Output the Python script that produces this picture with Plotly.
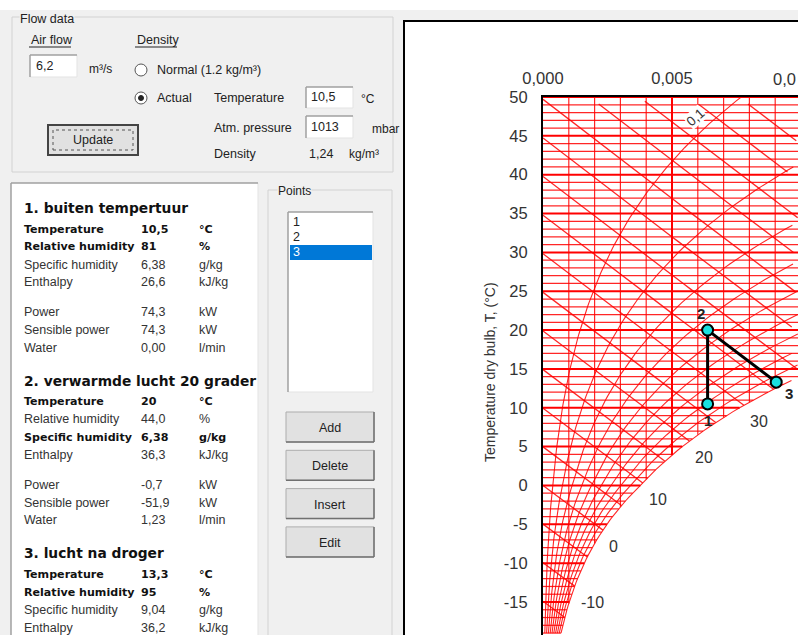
import numpy as np
import plotly.graph_objects as go

# ---------------- data ----------------
P_ATM = 101.3  # kPa (1013 mbar)
temp_levels = list(range(-20, 51))                 # dry-bulb isotherms, °C
humidity_levels = [0.001, 0.002, 0.003, 0.004, 0.005, 0.006, 0.007, 0.008, 0.009]  # kg/kg
enthalpy_levels = list(range(-15, 80, 5))          # kJ/kg
enthalpy_label_levels = [-10, 0, 10, 20, 30]
rh_levels = [0.1, 0.2, 0.3, 0.4, 0.5, 0.6, 0.7, 0.8, 0.9]
point_names = ["1", "2", "3"]
point_T = [10.5, 20.0, 13.3]
point_x = [0.00638, 0.00638, 0.00904]
x_tick_vals = [0.000, 0.005]
x_tick_text = ["0,000", "0,005"]
y_tick_vals = [-15, -10, -5, 0, 5, 10, 15, 20, 25, 30, 35, 40, 45, 50]
y_tick_text = ["-15", "-10", "-5", "0", "5", "10", "15", "20", "25", "30", "35", "40", "45", "50"]

flow_airflow = "6,2"
flow_temp = "10,5"
flow_pressure = "1013"
flow_density = "1,24"

section_titles = ["1. buiten tempertuur", "2. verwarmde lucht 20 grader", "3. lucht na droger"]
section_rows = [
    [("Temperature", "10,5", "°C", True), ("Relative humidity", "81", "%", True),
     ("Specific humidity", "6,38", "g/kg", False), ("Enthalpy", "26,6", "kJ/kg", False),
     None,
     ("Power", "74,3", "kW", False), ("Sensible power", "74,3", "kW", False),
     ("Water", "0,00", "l/min", False)],
    [("Temperature", "20", "°C", True), ("Relative humidity", "44,0", "%", False),
     ("Specific humidity", "6,38", "g/kg", True), ("Enthalpy", "36,3", "kJ/kg", False),
     None,
     ("Power", "-0,7", "kW", False), ("Sensible power", "-51,9", "kW", False),
     ("Water", "1,23", "l/min", False)],
    [("Temperature", "13,3", "°C", True), ("Relative humidity", "95", "%", True),
     ("Specific humidity", "9,04", "g/kg", False), ("Enthalpy", "36,2", "kJ/kg", False)],
]
list_items = ["1", "2", "3"]
buttons = ["Add", "Delete", "Insert", "Edit"]

# ---------------- psychrometrics ----------------
def psat(T):
    T = np.asarray(T, float)
    return np.where(T >= 0, 0.61094 * np.exp(17.625 * T / (T + 243.04)),
                    0.61115 * np.exp(22.452 * T / (272.55 + T)))

def x_of(T, rh):
    pv = rh * psat(T)
    return 0.622 * pv / (P_ATM - pv)

def T_of_h(h, x):
    return (h - 2501.0 * x) / (1.006 + 1.86 * x)

def bisect(f, a, b, n=60):
    fa = f(a)
    for _ in range(n):
        m = 0.5 * (a + b)
        fm = f(m)
        if (fm > 0) == (fa > 0):
            a, fa = m, fm
        else:
            b = m
    return 0.5 * (a + b)

W, H = 798, 635
X0PX, Y50PX = 543, 97
PX_PER_X = 25800.0
PX_PER_T = 505.0 / 65.0
x_max = (W - X0PX) / PX_PER_X
T_min = 50 - (H - Y50PX) / PX_PER_T

fig = go.Figure()

def add_lines(xs, ys, color, width):
    fig.add_trace(go.Scatter(x=xs, y=ys, mode="lines", line=dict(color=color, width=width),
                             hoverinfo="skip", showlegend=False, cliponaxis=True))

RED_THIN = "rgba(255,0,0,0.85)"
RED = "rgb(255,0,0)"

thin_x, thin_y, thk_x, thk_y = [], [], [], []
for T in temp_levels:
    xs = min(float(x_of(T, 1.0)), x_max)
    if T % 5 == 0:
        thk_x += [0, xs, None]; thk_y += [T, T, None]
    else:
        thin_x += [0, xs, None]; thin_y += [T, T, None]
vthin_x, vthin_y, vthk_x, vthk_y = [], [], [], []
for xv in humidity_levels:
    Td = max(bisect(lambda t: float(x_of(t, 1.0)) - xv, -60, 60), T_min)
    if abs(xv - 0.005) < 1e-9:
        vthk_x += [xv, xv, None]; vthk_y += [Td, 50, None]
    else:
        vthin_x += [xv, xv, None]; vthin_y += [Td, 50, None]
h_x, h_y, h_ends = [], [], {}
for h in enthalpy_levels:
    xi = bisect(lambda x: x - float(x_of(T_of_h(h, x), 1.0)), 0.0, 0.08)
    xs = np.linspace(0, xi, 40)
    ts = T_of_h(h, xs)
    keep = (ts <= 50.0) & (ts >= T_min) & (xs <= x_max)
    if keep.sum() >= 2:
        h_x += list(xs[keep]) + [None]; h_y += list(ts[keep]) + [None]
    h_ends[h] = (xi, float(T_of_h(h, xi)))
rh_x, rh_y = [], []
Ts = np.arange(-19, 50.01, 0.5)
for rh in rh_levels + [1.0]:
    xs = x_of(Ts, rh)
    keep = xs <= x_max
    rh_x += list(xs[keep]) + [None]; rh_y += list(Ts[keep]) + [None]

add_lines(thin_x, thin_y, RED_THIN, 1.25)
add_lines(vthin_x, vthin_y, RED_THIN, 1.2)
add_lines(rh_x, rh_y, RED_THIN, 1.1)
add_lines(h_x, h_y, RED_THIN, 1.3)
add_lines(thk_x, thk_y, RED, 2)
add_lines(vthk_x, vthk_y, RED, 2)

fig.add_trace(go.Scatter(x=point_x, y=point_T, mode="lines+markers",
                         line=dict(color="black", width=3),
                         marker=dict(size=11, color="#19e0e0", line=dict(color="black", width=2)),
                         hoverinfo="skip", showlegend=False))

# ---------------- shapes / UI ----------------
shapes, ann = [], []
GRAY = "#f0f0f0"
FONT = "Liberation Sans, Arial, sans-serif"
BFONT = "DejaVu Sans, Verdana, sans-serif"

def P(x, y):
    x = min(max(x, 0), W); y = min(max(y, 0), H)
    return x / W, 1 - y / H

def rect(x0, y0, x1, y1, fill=None, line=None, lw=1, dash=None):
    a, b = P(x0, y1); c, d = P(x1, y0)
    ln = dict(color=line if line else "rgba(0,0,0,0)", width=lw if line else 0)
    if dash:
        ln["dash"] = dash
    shapes.append(dict(type="rect", xref="paper", yref="paper", x0=a, y0=b, x1=c, y1=d,
                       fillcolor=fill if fill else "rgba(0,0,0,0)", line=ln, layer="below"))

def seg(x0, y0, x1, y1, color, lw=1, dash=None):
    a, b = P(x0, y0); c, d = P(x1, y1)
    ln = dict(color=color, width=lw)
    if dash:
        ln["dash"] = dash
    shapes.append(dict(type="line", xref="paper", yref="paper", x0=a, y0=b, x1=c, y1=d,
                       line=ln, layer="below"))

def circle(cx, cy, r, fill, line, lw=1):
    a, b = P(cx - r, cy + r); c, d = P(cx + r, cy - r)
    shapes.append(dict(type="circle", xref="paper", yref="paper", x0=a, y0=b, x1=c, y1=d,
                       fillcolor=fill, line=dict(color=line, width=lw), layer="below"))

def txt(x, y, s, size=12, bold=False, color="#222", xa="left", bg=None, family=FONT):
    a, b = P(x, y)
    d = dict(x=a, y=b, xref="paper", yref="paper", text=("<b>%s</b>" % s) if bold else s,
             showarrow=False, xanchor=xa, yanchor="middle",
             font=dict(size=size, color=color, family=family))
    if bg:
        d["bgcolor"] = bg
        d["borderpad"] = 0
    ann.append(d)

def sunken(x0, y0, x1, y1, fill="white", open_bottom=False):
    rect(x0, y0, x1, y1, fill=fill)
    seg(x1, y0, x1, y1, "#e3e3e3", 1)
    if not open_bottom:
        seg(x0, y1, x1, y1, "#e3e3e3", 1)
    seg(x0, y0, x1, y0, "#a0a0a0", 1.5)
    seg(x0, y0, x0, y1, "#a0a0a0", 1.5)

def button(x0, y0, x1, y1, label):
    rect(x0, y0, x1, y1, fill="#e1e1e1", line="#adadad", lw=1)
    seg(x0, y1, x1, y1, "#707070", 1.5)
    seg(x1, y0, x1, y1, "#707070", 1.5)
    txt((x0 + x1) / 2, (y0 + y1) / 2 + 1, label, 12.5, color="#222", xa="center")

rect(0, 10, W, H, fill=GRAY)
rect(404, 21, W, H, fill="white")
seg(404, 21, 404, H, "black", 2)
seg(403, 21, W, 21, "black", 2)

rect(12, 17, 393, 172, line="#d2d2d2", lw=1)
txt(19, 19, "Flow data", 12.5, color="#222", bg=GRAY)
txt(29, 40, "Air flow", 12.5, color="#222")
seg(29, 47, 71, 47, "#222", 1)
txt(135, 40, "Density", 12.5, color="#222")
seg(135, 47, 177, 47, "#222", 1)
sunken(30, 55, 77, 77)
txt(34, 66, flow_airflow, 12.5, color="#222")
txt(87, 69, "m³/s", 12, color="#222")
circle(141, 70, 6, "white", "#555", 1)
txt(155, 70, "Normal (1.2 kg/m³)", 12.5, color="#222")
circle(141, 98, 6, "white", "#555", 1)
circle(141, 98, 2.5, "#222", "#222", 1)
txt(155, 98, "Actual", 12.5, color="#222")
txt(212, 98, "Temperature", 12.5, color="#222")
sunken(306, 87, 353, 108)
txt(309, 97, flow_temp, 12.5, color="#222")
txt(359, 99, "°C", 12, color="#222")
txt(212, 128, "Atm. pressure", 12.5, color="#222")
sunken(306, 116, 353, 138)
txt(309, 127, flow_pressure, 12.5, color="#222")
txt(370, 129, "mbar", 12, color="#222")
txt(212, 154, "Density", 12.5, color="#222")
txt(307, 154, flow_density, 12.5, color="#222")
txt(347, 154, "kg/m³", 12, color="#222")
rect(48, 125, 138, 155, fill="#e1e1e1", line="#444", lw=2)
rect(53, 130, 133, 150, line="#555", lw=1, dash="dot")
txt(93, 140, "Update", 12.5, color="#222", xa="center")

sunken(11, 183, 258, H, open_bottom=True)
y = 208
for title, rows in zip(section_titles, section_rows):
    txt(22, y, title, 13.8, bold=True, color="#111", family=BFONT)
    y += 21
    for r in rows:
        if r is None:
            y += 12
            continue
        lab, val, unit, b = r
        if b:
            txt(22, y, lab, 11.1, bold=True, color="#111", family=BFONT)
            txt(139, y, val, 11.1, bold=True, color="#111", family=BFONT)
            txt(197, y, unit, 11.1, bold=True, color="#111", family=BFONT)
        else:
            txt(22, y, lab, 12.5, color="#333")
            txt(139, y, val, 12.5, color="#333")
            txt(197, y, unit, 12.5, color="#333")
        y += 17.8
    y += 15

seg(268, 190, 268, H, "#d2d2d2", 1)
seg(392, 190, 392, H, "#d2d2d2", 1)
seg(268, 190, 392, 190, "#d2d2d2", 1)
txt(277, 191, "Points", 12, color="#222", bg=GRAY)
sunken(288, 212, 373, 392)
rect(290, 245, 372, 260, fill="#0078d7")
for i, it in enumerate(list_items):
    txt(291, 222 + 15 * i, it, 12.5, color="white" if i == 2 else "#222")
for i, b in enumerate(buttons):
    y0 = 412 + 38.3 * i
    button(286, y0, 374, y0 + 30, b)

CF = "Liberation Sans, Arial, sans-serif"
a, b = P(490, 372)
ann.append(dict(x=a, y=b, xref="paper", yref="paper", text="Temperature dry bulb, T, (°C)",
                textangle=-90, showarrow=False, font=dict(size=14, color="#333", family=CF)))
a, b = P(W, 79)
ann.append(dict(x=a, y=b, xref="paper", yref="paper", text="0,0", showarrow=False,
                xanchor="right", yanchor="middle", font=dict(size=16.5, color="#333", family=CF)))
for h in enthalpy_label_levels:
    xe, Te = h_ends[h]
    ann.append(dict(x=xe, y=Te, xref="x", yref="y", text=str(h), showarrow=False,
                    xanchor="left", yanchor="top", xshift=4, yshift=-6,
                    font=dict(size=16, color="#333", family=CF)))
ann.append(dict(x=0.0059, y=47.4, xref="x", yref="y", text="0,1", showarrow=False,
                textangle=-42, bgcolor="white", borderpad=0,
                font=dict(size=13.5, color="#333", family=CF)))
lab_shift = [(0, -17), (-7, 17), (13, -11)]
for n, xv, tv, (dx, dy) in zip(point_names, point_x, point_T, lab_shift):
    ann.append(dict(x=xv, y=tv, xref="x", yref="y", text="<b>%s</b>" % n, showarrow=False,
                    xshift=dx, yshift=dy, font=dict(size=15, color="#222", family=CF)))

fig.update_layout(
    template="none",
    width=W, height=H, margin=dict(l=0, r=0, t=0, b=0, pad=0, autoexpand=False), autosize=False,
    paper_bgcolor="white", plot_bgcolor="rgba(0,0,0,0)",
    separators=",.", showlegend=False,
    shapes=shapes, annotations=ann,
    xaxis=dict(domain=[X0PX / W, 1], range=[0, x_max], side="top", tickvals=x_tick_vals,
               ticktext=x_tick_text, showgrid=False, zeroline=False, showline=True,
               automargin=False, linecolor="black", linewidth=2, ticks="", ticklabelstandoff=4,
               tickfont=dict(size=16.5, color="#333", family=CF)),
    yaxis=dict(domain=[0, 1 - Y50PX / H], range=[T_min, 50], tickvals=y_tick_vals,
               ticktext=y_tick_text, showgrid=False, zeroline=False, showline=True,
               linecolor="black", linewidth=2, automargin=False, ticks="", ticklabelstandoff=10,
               tickfont=dict(size=16.5, color="#333", family=CF)),
)

fig.write_html("out.html", config={"displayModeBar": False},
               post_script="document.body.style.margin='0';document.body.style.overflow='hidden';")
